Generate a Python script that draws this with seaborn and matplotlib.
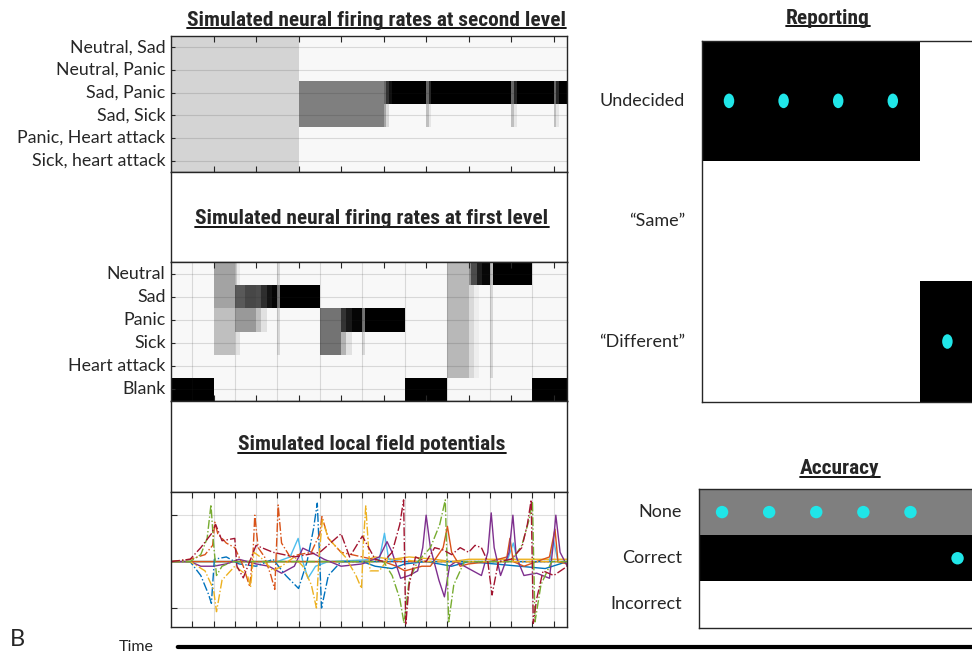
import numpy as np
import pandas as pd
import matplotlib
matplotlib.use("Agg")
import matplotlib.pyplot as plt
import seaborn as sns
from matplotlib import font_manager
from matplotlib.lines import Line2D
from matplotlib.patches import FancyArrowPatch
from matplotlib.path import Path
from matplotlib.transforms import Affine2D

# ---------------- data ----------------
second_rows = ["Neutral, Sad", "Neutral, Panic", "Sad, Panic", "Sad, Sick",
               "Panic, Heart attack", "Sick, heart attack"]
first_rows = ["Neutral", "Sad", "Panic", "Sick", "Heart attack", "Blank"]

# (start, end, level) in epochs; level 0 = white, 1 = black
second_level = {
    "Neutral, Sad": [(0, 3, 0.17)],
    "Neutral, Panic": [(0, 3, 0.17)],
    "Sad, Panic": [(0, 3, 0.17), (3, 5, 0.5), (5, 5.0625, 0.6), (5.0625, 5.125, 0.8),
                   (5.125, 5.1875, 0.93), (5.1875, 9.4, 1.0),
                   (6, 6.0625, 0.6), (6.0625, 6.125, 0.85),
                   (8, 8.0625, 0.6), (8.0625, 8.125, 0.85),
                   (9, 9.0625, 0.6), (9.0625, 9.125, 0.85)],
    "Sad, Sick": [(0, 3, 0.17), (3, 5, 0.5), (5, 5.0625, 0.35), (5.0625, 5.125, 0.15),
                  (6, 6.0625, 0.25), (6.0625, 6.125, 0.1),
                  (8, 8.0625, 0.25), (8.0625, 8.125, 0.1),
                  (9, 9.0625, 0.25), (9.0625, 9.125, 0.1)],
    "Panic, Heart attack": [(0, 3, 0.17)],
    "Sick, heart attack": [(0, 3, 0.17)],
}
first_level = {
    "Neutral": [(1, 1.5, 0.36), (1.5, 1.5625, 0.2), (1.5625, 1.625, 0.08), (2.5, 2.5625, 0.15),
                (6.5, 7, 0.28), (7, 7.0625, 0.45), (7.0625, 7.1875, 0.7), (7.1875, 7.3125, 0.88),
                (7.3125, 7.5, 0.97), (7.5, 7.5625, 0.25), (7.5625, 8.5, 1.0)],
    "Sad": [(1, 1.5, 0.36), (1.5, 1.75, 0.65), (1.75, 2, 0.72), (2, 2.125, 0.7),
            (2.125, 2.25, 0.82), (2.25, 2.375, 0.92), (2.375, 2.5, 0.98),
            (2.5, 2.5625, 0.55), (2.5625, 3.5, 1.0),
            (6.5, 7, 0.28), (7, 7.125, 0.15), (7.125, 7.25, 0.07), (7.5, 7.5625, 0.15)],
    "Panic": [(1, 1.5, 0.25), (1.5, 2, 0.4), (2, 2.125, 0.25), (2.125, 2.25, 0.12),
              (2.5, 2.5625, 0.15), (3.5, 4, 0.55), (4, 4.125, 0.8), (4.125, 4.25, 0.9),
              (4.25, 4.5, 0.98), (4.5, 4.5625, 0.55), (4.5625, 5.5, 1.0),
              (6.5, 7, 0.28), (7, 7.125, 0.15), (7.125, 7.25, 0.07), (7.5, 7.5625, 0.15)],
    "Sick": [(1, 1.5, 0.25), (1.5, 1.625, 0.12), (2.5, 2.5625, 0.15), (3.5, 4, 0.55),
             (4, 4.125, 0.3), (4.125, 4.25, 0.12), (4.5, 4.5625, 0.15),
             (6.5, 7, 0.28), (7, 7.125, 0.15), (7.125, 7.25, 0.07), (7.5, 7.5625, 0.15)],
    "Heart attack": [(6.5, 7, 0.28), (7, 7.125, 0.15), (7.125, 7.25, 0.07), (7.5, 7.5625, 0.15)],
    "Blank": [(0, 1, 1.0), (5.5, 6.5, 1.0), (8.5, 9.4, 1.0)],
}
base_level = 0.03

# local field potentials (time in epochs, arbitrary units)
lfp_blue_dd_t = [0, 0.45, 0.7, 0.88, 0.95, 1.02, 1.3, 1.6, 2.0, 2.4, 2.7, 3.0, 3.2, 3.35, 3.44, 3.49, 3.54, 3.7, 4.0, 4.5, 9.32]
lfp_blue_dd_v = [0, 0, -0.3, -0.7, -0.9, 0.05, 0.1, -0.05, -0.1, 0.05, -0.3, -0.58, 0.0, 0.7, 1.26, 0.2, -1.0, -0.3, 0.0, 0.0, 0.0]
lfp_orange_dd_t = [0, 0.45, 0.8, 0.98, 1.03, 1.1, 1.3, 1.5, 1.7, 1.85, 1.93, 1.97, 2.05, 2.2, 2.35, 2.44, 2.48, 2.52, 2.6, 2.8, 3.0, 3.3, 3.5, 3.55, 3.7, 4.0, 4.5, 5.0, 9.32]
lfp_orange_dd_v = [0, 0.05, 0.15, 0.35, 0.85, 0.6, 0.4, 0.3, -0.1, -0.54, 0.2, 1.0, 0.3, 0.1, -0.3, -0.6, 0.3, 1.22, 0.4, 0.1, 0.15, 0.2, 0.6, 0.97, 0.5, 0.2, 0.1, 0, 0]
lfp_yellow_dd_t = [0, 0.45, 0.8, 1.0, 1.07, 1.2, 1.5, 1.8, 1.87, 1.95, 2.1, 2.4, 2.6, 2.9, 3.1, 3.3, 3.42, 3.48, 3.56, 3.7, 3.9, 4.1, 4.35, 4.48, 4.53, 4.58, 4.68, 4.9, 5.1, 5.4, 5.8, 9.32]
lfp_yellow_dd_v = [0, 0, -0.2, -0.6, -1.08, -0.4, -0.1, -0.3, -0.55, 0.2, 0.1, -0.2, -0.1, 0.1, -0.1, -0.5, -1.0, 0.1, 0.9, 0.5, 0.3, 0.1, -0.3, -0.58, 0.5, 1.2, -0.2, -0.2, 0.05, 0.05, 0, 0]
lfp_green_dd_t = [0, 0.45, 0.7, 0.85, 0.94, 1.0, 1.07, 1.2, 1.45, 5.0, 5.2, 5.38, 5.48, 5.6, 5.8, 6.1, 6.32, 6.45, 6.53, 6.65, 6.9, 8.0, 8.25, 8.42, 8.5, 8.56, 8.7, 8.95, 9.32]
lfp_green_dd_v = [0, 0, 0.15, 0.5, 1.23, 0.4, -0.3, -0.1, 0, 0, -0.3, -0.8, -1.33, -0.4, 0, 0.3, 0.8, 1.33, -1.3, -0.5, 0, 0, 0.35, 0.9, 1.3, -1.3, -0.5, 0, 0]
lfp_darkred_dd_t = [0, 0.45, 0.7, 0.95, 1.05, 1.2, 1.5, 1.55, 1.7, 2.0, 2.4, 2.9, 3.5, 4.0, 4.2, 4.5, 4.8, 5.0, 5.2, 5.38, 5.47, 5.52, 5.6, 5.75, 6.0, 6.2, 6.4, 6.6, 6.8, 7.0, 7.15, 7.3, 7.45, 7.55, 7.7, 8.0, 8.25, 8.38, 8.47, 8.52, 8.6, 8.75, 9.0, 9.32]
lfp_darkred_dd_v = [0, 0.05, 0.3, 0.6, 0.8, 0.45, 0.5, -0.1, -0.35, 0.35, 0.2, 0.1, 0.2, 0.6, 0.1, 0.55, 0.05, 0, 0.2, 0.8, 1.33, -1.37, -0.5, 0.1, 0.0, 0.3, 0.25, 0.15, 0.3, 0.2, 0.35, 0.3, 0.0, -0.72, 0.0, 0.05, 0.3, 0.8, 1.33, -1.33, -0.8, -0.2, -0.3, -0.1]
lfp_purple_t = [0, 0.45, 0.7, 1.0, 1.3, 1.6, 2.0, 2.3, 2.6, 2.9, 3.1, 3.3, 3.6, 4.0, 4.5, 4.9, 5.08, 5.2, 5.4, 5.6, 5.8, 5.92, 6.0, 6.1, 6.3, 6.43, 6.55, 6.7, 6.9, 7.1, 7.3, 7.45, 7.53, 7.6, 7.75, 7.95, 8.04, 8.12, 8.3, 8.6, 8.9, 8.98, 9.05, 9.15, 9.32]
lfp_purple_v = [0, 0, -0.1, -0.1, -0.05, 0.05, -0.05, -0.1, -0.25, -0.1, 0.29, 0.2, 0.05, -0.1, -0.05, 0.1, 0.43, 0.2, -0.36, -0.3, -0.2, 0.3, 1.0, 0.3, -0.4, -0.76, -0.1, 0.0, -0.1, -0.2, -0.3, 0.2, 1.05, 0.3, -0.3, 0.2, 1.0, 0.1, -0.3, -0.25, -0.36, 0.3, 1.0, 0.2, -0.1]
lfp_lightblue_t = [0, 2.5, 2.8, 2.99, 3.1, 3.22, 3.4, 3.7, 4.9, 5.02, 5.12, 5.4, 7.9, 8.05, 8.15, 8.9, 9.0, 9.1, 9.32]
lfp_lightblue_v = [0, 0, 0.1, 0.5, 0.0, -0.36, -0.1, 0, 0.05, 0.61, 0.05, 0, 0, 0.4, 0, 0, 0.45, 0, 0]
lfp_orange_t = [0, 5.0, 5.3, 5.5, 5.9, 6.1, 6.4, 6.5, 6.6, 6.8, 7.0, 7.5, 7.9, 7.97, 8.05, 8.3, 8.9, 9.03, 9.1, 9.32]
lfp_orange_v = [0, 0, -0.1, -0.2, -0.1, -0.1, 0.3, 0.76, 0.2, -0.1, -0.05, 0, 0.1, 0.5, 0.0, -0.1, 0.1, 0.7, 0.0, -0.05]
lfp_yellow_t = [0, 4.5, 4.8, 5.2, 5.6, 6.2, 6.6, 7.0, 8.0, 9.32]
lfp_yellow_v = [0, 0, 0.1, 0.05, 0.1, 0.05, 0.0, 0.05, 0.05, 0.05]
lfp_blue_t = [0, 4.5, 4.8, 5.2, 5.5, 6.0, 6.6, 7.0, 7.6, 8.2, 8.8, 9.32]
lfp_blue_v = [0, 0, -0.1, -0.15, -0.05, 0.0, -0.1, 0.0, -0.05, -0.1, -0.15, 0.0]

report_rows = ["Undecided", "\u201cSame\u201d", "\u201cDifferent\u201d"]
report_undecided = [1, 1, 1, 1, 0]
report_same = [0, 0, 0, 0, 0]
report_different = [0, 0, 0, 0, 1]
report_choice = [0, 0, 0, 0, 2]

accuracy_rows = ["None", "Correct", "Incorrect"]
accuracy_none = [0.5, 0.5, 0.5, 0.5, 0.5, 0.5]
accuracy_correct = [1, 1, 1, 1, 1, 1]
accuracy_incorrect = [0, 0, 0, 0, 0, 0]
accuracy_choice = [0, 0, 0, 0, 0, 1]

# ---------------- style ----------------
sns.set_style("white")
installed = {f.name for f in font_manager.fontManager.ttflist}
label_font = next(f for f in ["Lato", "Open Sans", "Noto Sans", "DejaVu Sans"] if f in installed)
title_font = next(f for f in ["Liberation Sans Narrow", "Roboto Condensed", "Liberation Sans", "DejaVu Sans"]
                  if f in installed)
plt.rcParams["font.family"] = [label_font, "DejaVu Sans"]

W, H = 972, 656
AX_COL = "#262626"
CYAN = "#20e6e8"
T_END = 9.3125
DT = 1 / 16
N_COLS = int(round(T_END / DT))

fig = plt.figure(figsize=(W / 100, H / 100), dpi=100)


def rect(x0, y0, x1, y1):
    return [x0 / W, 1 - y1 / H, (x1 - x0) / W, (y1 - y0) / H]


def frame(ax):
    for s in ax.spines.values():
        s.set_visible(True)
        s.set_color(AX_COL)
        s.set_linewidth(1.0)


def level_table(rows, segs):
    tc = (np.arange(N_COLS) + 0.5) * DT
    m = np.full((len(rows), N_COLS), base_level)
    for i, r in enumerate(rows):
        for a, b, v in segs[r]:
            m[i, (tc >= a) & (tc < b)] = v
    return pd.DataFrame(m, index=rows)


def firing_panel(box, rows, segs, xgrid_step):
    ax = fig.add_axes(rect(*box))
    sns.heatmap(level_table(rows, segs), ax=ax, cmap="gray_r", vmin=0, vmax=1,
                cbar=False, xticklabels=False, yticklabels=rows)
    frame(ax)
    ax.set_xticks(np.arange(1, 10) / DT)
    ax.set_xticks(np.arange(xgrid_step, T_END, xgrid_step) / DT, minor=True)
    ax.set_yticks(np.arange(len(rows)) + 0.5)
    ax.set_yticklabels(rows, rotation=0, fontsize=12.8)
    ax.tick_params(axis="x", which="major", direction="in", length=4, width=0.8, color=AX_COL,
                   top=True, bottom=True, labelbottom=False)
    ax.tick_params(axis="x", which="minor", length=0)
    ax.tick_params(axis="y", direction="in", length=3, width=0.8, color=AX_COL, left=True,
                   pad=4)
    ax.set_axisbelow(False)
    ax.grid(True, which="minor", axis="x", color=AX_COL, alpha=0.15, lw=0.8)
    ax.grid(True, which="major", axis="y", color=AX_COL, alpha=0.15, lw=0.8)
    ax.set_xlabel("")
    ax.set_ylabel("")
    return ax


def blank_panel(box):
    ax = fig.add_axes(rect(*box))
    ax.set_xticks([])
    ax.set_yticks([])
    frame(ax)
    return ax


# ---------------- left column ----------------
firing_panel((171, 36, 567, 172), second_rows, second_level, 1.0)
blank_panel((171, 172, 567, 262))
firing_panel((171, 262, 567, 401), first_rows, first_level, 0.5)
blank_panel((171, 401, 567, 492))

axl = fig.add_axes(rect(171, 492, 567, 627))
lfp_lines = [
    (lfp_blue_t, lfp_blue_v, "#0072BD", "-"),
    (lfp_yellow_t, lfp_yellow_v, "#EDB120", "-"),
    (lfp_lightblue_t, lfp_lightblue_v, "#4DBEEE", "-"),
    (lfp_orange_t, lfp_orange_v, "#D95319", "-"),
    (lfp_purple_t, lfp_purple_v, "#7E2F8E", "-"),
    (lfp_blue_dd_t, lfp_blue_dd_v, "#0072BD", "-."),
    (lfp_orange_dd_t, lfp_orange_dd_v, "#D95319", "-."),
    (lfp_yellow_dd_t, lfp_yellow_dd_v, "#EDB120", "-."),
    (lfp_green_dd_t, lfp_green_dd_v, "#77AC30", "-."),
    (lfp_darkred_dd_t, lfp_darkred_dd_v, "#A2142F", "-."),
]
for t, v, c, ls in lfp_lines:
    sns.lineplot(x=t, y=v, ax=axl, color=c, linestyle=ls, lw=1.0, sort=False, estimator=None)
axl.set_xlim(0, T_END)
axl.set_ylim(-1.41, 1.5)
axl.set_xticks(np.arange(0.5, T_END, 0.5))
axl.set_yticks([-1, 1])
axl.set_xticklabels([])
axl.set_yticklabels([])
axl.tick_params(direction="in", length=4, width=0.8, color=AX_COL, top=True, bottom=True,
                left=True, right=False)
axl.grid(True, color=AX_COL, alpha=0.15, lw=0.8)
frame(axl)

# ---------------- right column ----------------
ellipse = Affine2D().scale(0.72, 1.0).transform_path(Path.unit_circle())


def choice_panel(box, rows, values, choice, marker, size):
    ax = fig.add_axes(rect(*box))
    table = pd.DataFrame(values, index=rows)
    sns.heatmap(table, ax=ax, cmap="gray_r", vmin=0, vmax=1, cbar=False,
                xticklabels=False, yticklabels=rows)
    frame(ax)
    ncol = table.shape[1]
    sns.scatterplot(x=np.arange(ncol) + 0.5, y=np.array(choice) + 0.5, ax=ax, color=CYAN,
                    marker=marker, s=size, edgecolor="none", linewidth=0, zorder=5)
    ax.set_xlim(0, ncol)
    ax.set_ylim(len(rows), 0)
    ax.set_xticks(np.arange(ncol) + 0.5)
    ax.set_yticks(np.arange(len(rows)) + 0.5)
    ax.set_yticklabels(rows, rotation=0, fontsize=13)
    ax.tick_params(axis="x", direction="in", length=3, width=0.8, color=AX_COL, top=True,
                   bottom=True, labelbottom=False)
    ax.tick_params(axis="y", direction="in", length=3, width=0.8, color=AX_COL, left=True,
                   right=True, pad=12)
    ax.set_xlabel("")
    ax.set_ylabel("")
    return ax


choice_panel((701.7, 40.7, 974.7, 401.7), report_rows,
             [report_undecided, report_same, report_different], report_choice, ellipse, 110)
choice_panel((698.5, 489, 981.1, 627.5), accuracy_rows,
             [accuracy_none, accuracy_correct, accuracy_incorrect], accuracy_choice, "o", 80)

# ---------------- titles ----------------
titles = []
for x, y, s in [(376, 20, "Simulated neural firing rates at second level"),
                (372, 219, "Simulated neural firing rates at first level"),
                (372, 445, "Simulated local field potentials"),
                (828, 18, "Reporting"),
                (840, 469, "Accuracy")]:
    titles.append(fig.text(x / W, 1 - y / H, s, ha="center", va="center", fontsize=15.4,
                           fontweight="bold", family=title_font))

fig.text(17 / W, 1 - 640 / H, "B", ha="center", va="center", fontsize=17)
fig.text(136 / W, 1 - 647 / H, "Time", ha="center", va="center", fontsize=11.5)
fig.add_artist(FancyArrowPatch((175 / W, 1 - 647 / H), (990 / W, 1 - 647 / H),
                               transform=fig.transFigure, arrowstyle="-|>",
                               mutation_scale=14, lw=3, color="black"))

fig.canvas.draw()
renderer = fig.canvas.get_renderer()
for t in titles:
    bb = t.get_window_extent(renderer)
    y = bb.y0 + 0.06 * bb.height
    fig.add_artist(Line2D([bb.x0 / W, bb.x1 / W], [y / H, y / H], transform=fig.transFigure,
                          color="black", lw=1.3))

fig.savefig("out.png", dpi=100)
